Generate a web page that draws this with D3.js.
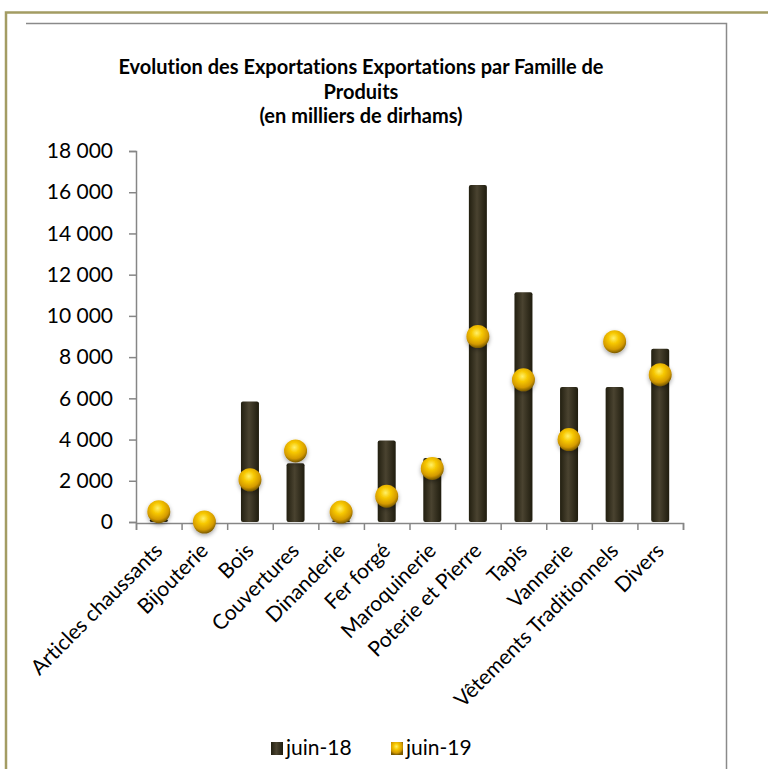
<!DOCTYPE html>
<html>
<head>
<meta charset="utf-8">
<script src="https://cdn.jsdelivr.net/npm/d3@7"></script>
<style>
  body { margin: 0; background: #ffffff; }
  text { font-family: Lato, "Open Sans", sans-serif; fill: #000; font-variant-ligatures: none; }
</style>
</head>
<body>
<div id="chart"></div>
<script>
// Data
var categories = ["Articles chaussants", "Bijouterie", "Bois", "Couvertures", "Dinanderie",
    "Fer forgé", "Maroquinerie", "Poterie et Pierre", "Tapis", "Vannerie",
    "Vêtements Traditionnels", "Divers"];
var juin18 = [150, 20, 5850, 2850, 80, 3950, 3100, 16350, 11150, 6550, 6550, 8400];
var juin19 = [500, 0, 2050, 3450, 480, 1250, 2600, 9000, 6900, 4000, 8750, 7150];
var seriesNames = ["juin-18", "juin-19"];
var yTicks = [0, 2000, 4000, 6000, 8000, 10000, 12000, 14000, 16000, 18000];
var titleLines = ["Evolution des Exportations Exportations par Famille de", "Produits", "(en milliers de dirhams)"];

// Define svgWidth and svgHeight
var svgWidth = 768;
var svgHeight = 769;

// Plot area
var plot = { left: 136, right: 683, top: 151, bottom: 522 };

var svg = d3.select("#chart")
    .append("svg")
    .attr("width", svgWidth)
    .attr("height", svgHeight);

var defs = svg.append("defs");

// Bar gradient (cylinder look)
var barGrad = defs.append("linearGradient")
    .attr("id", "barGrad")
    .attr("x1", "0%").attr("x2", "100%").attr("y1", "0%").attr("y2", "0%");
barGrad.append("stop").attr("offset", "0%").attr("stop-color", "#221f10");
barGrad.append("stop").attr("offset", "45%").attr("stop-color", "#4a4330");
barGrad.append("stop").attr("offset", "100%").attr("stop-color", "#1f1c0e");

// Marker gradient (gold sphere)
var dotGrad = defs.append("radialGradient")
    .attr("id", "dotGrad")
    .attr("cx", "45%").attr("cy", "35%").attr("r", "65%");
dotGrad.append("stop").attr("offset", "0%").attr("stop-color", "#fff06a");
dotGrad.append("stop").attr("offset", "35%").attr("stop-color", "#f7c800");
dotGrad.append("stop").attr("offset", "75%").attr("stop-color", "#d49a00");
dotGrad.append("stop").attr("offset", "100%").attr("stop-color", "#7a5a00");

var shadow = defs.append("filter")
    .attr("id", "shadow")
    .attr("x", "-50%").attr("y", "-50%").attr("width", "200%").attr("height", "200%");
shadow.append("feDropShadow")
    .attr("dx", 0).attr("dy", 2)
    .attr("stdDeviation", 2)
    .attr("flood-color", "#000")
    .attr("flood-opacity", 0.35);

// Frames
svg.append("path")
    .attr("d", "M6,769 V12.5 H768")
    .attr("fill", "none")
    .attr("stroke", "#a39c63")
    .attr("stroke-width", 2.5);

svg.append("path")
    .attr("d", "M26,23.5 H726.5 V769")
    .attr("fill", "none")
    .attr("stroke", "#8a8a8a")
    .attr("stroke-width", 1.5);

// Title
svg.append("g")
    .selectAll("text")
    .data(titleLines)
    .enter()
    .append("text")
    .attr("x", 361)
    .attr("y", (d, i) => 74 + i * 24.5)
    .attr("text-anchor", "middle")
    .style("font-size", "20px")
    .style("font-weight", "bold")
    .text(d => d);

// Scales
var xScale = d3.scaleBand()
    .domain(categories)
    .range([plot.left, plot.right]);

var xEdge = d3.scaleLinear()
    .domain([0, categories.length])
    .range([plot.left, plot.right]);

var yScale = d3.scaleLinear()
    .domain([0, 18000])
    .range([plot.bottom, plot.top]);

var frLocale = d3.formatLocale({ decimal: ",", thousands: " ", grouping: [3], currency: ["", ""] });
var fmt = frLocale.format(",");

// Y axis
var yAxis = svg.append("g")
    .attr("transform", `translate(${plot.left}, 0)`)
    .call(d3.axisLeft(yScale).tickValues(yTicks).tickFormat(fmt).tickSizeOuter(0).tickSize(7).tickPadding(16));
yAxis.select(".domain").attr("stroke", "#868686").attr("stroke-width", 1.5);
yAxis.selectAll(".tick line").attr("stroke", "#868686").attr("stroke-width", 1.5);
yAxis.selectAll(".tick text")
    .style("font-size", "21px")
    .style("font-family", "Lato, sans-serif")
    .attr("fill", "#000");

// Bars
var barWidth = 18;
svg.append("g")
    .selectAll("rect")
    .data(juin18)
    .enter()
    .append("rect")
    .attr("x", (d, i) => xScale(categories[i]) + xScale.bandwidth() / 2 - barWidth / 2)
    .attr("y", d => yScale(d))
    .attr("width", barWidth)
    .attr("height", d => yScale(0) - yScale(d))
    .attr("rx", 2)
    .attr("fill", "url(#barGrad)");

// X axis (ticks at category edges)
var xAxis = svg.append("g")
    .attr("transform", `translate(0, ${plot.bottom + 1})`)
    .call(d3.axisBottom(xEdge).tickValues(d3.range(categories.length + 1)).tickFormat("").tickSizeOuter(0).tickSize(7));
xAxis.select(".domain").attr("stroke", "#868686").attr("stroke-width", 1.5);
xAxis.selectAll(".tick line").attr("stroke", "#868686").attr("stroke-width", 1.5);

// Category labels
svg.append("g")
    .selectAll("text")
    .data(categories)
    .enter()
    .append("text")
    .attr("transform", d => `translate(${xScale(d) + xScale.bandwidth() / 2 + 5}, ${plot.bottom + 30}) rotate(-45)`)
    .attr("text-anchor", "end")
    .style("font-size", "21px")
    .text(d => d);

// Markers
svg.append("g")
    .selectAll("circle")
    .data(juin19)
    .enter()
    .append("circle")
    .attr("cx", (d, i) => xScale(categories[i]) + xScale.bandwidth() / 2)
    .attr("cy", d => yScale(d))
    .attr("r", 11.5)
    .attr("fill", "url(#dotGrad)")
    .attr("filter", "url(#shadow)");

// Legend
var legend = svg.append("g")
    .attr("transform", "translate(271, 748)");

legend.append("rect")
    .attr("x", 0).attr("y", -6)
    .attr("width", 12).attr("height", 13)
    .attr("fill", "url(#barGrad)");
legend.append("text")
    .attr("x", 15).attr("y", 7)
    .style("font-size", "21px")
    .text(seriesNames[0]);

legend.append("rect")
    .attr("x", 120).attr("y", -6)
    .attr("width", 12).attr("height", 13)
    .attr("fill", "url(#dotGrad)");
legend.append("text")
    .attr("x", 135).attr("y", 7)
    .style("font-size", "21px")
    .text(seriesNames[1]);
</script>
</body>
</html>
